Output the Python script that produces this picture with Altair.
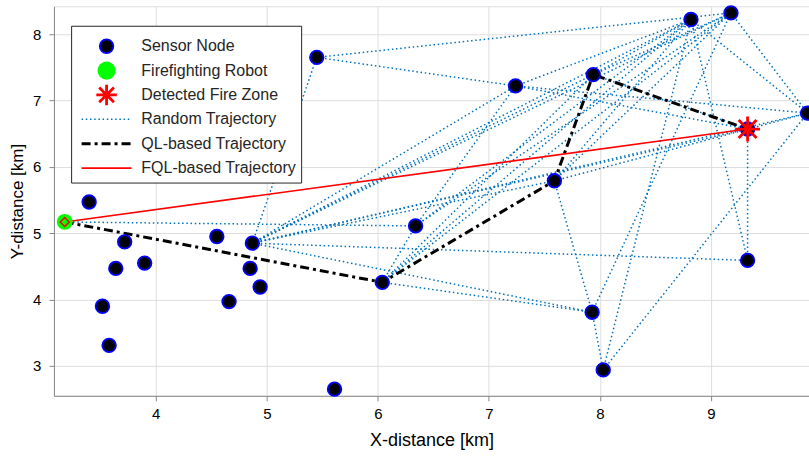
import altair as alt
import pandas as pd

# ---------------- data ----------------
node_names = ["S1", "S2", "S3", "S4", "S5", "S6", "S7", "S8", "S9", "S10",
              "S11", "S12", "A", "J", "I", "B", "H", "C", "L", "M",
              "D", "E", "K", "G", "F"]
node_x = [3.40, 3.72, 3.64, 3.90, 3.52, 3.58, 4.55, 4.87, 4.85, 4.94,
          4.66, 5.61, 5.45, 6.04, 6.34, 7.24, 7.59, 7.94, 7.93, 8.03,
          8.82, 9.18, 9.33, 9.87, 9.33]
node_y = [5.47, 4.87, 4.47, 4.55, 3.90, 3.31, 4.95, 4.85, 4.47, 4.19,
          3.97, 2.65, 7.65, 4.26, 5.11, 7.22, 5.79, 7.39, 3.81, 2.94,
          8.22, 8.32, 4.59, 6.81, 6.57]

robot_x = [3.18]
robot_y = [5.17]
fire_x = [9.33]
fire_y = [6.57]

# random trajectory segments (start node, end node); "R" = robot
random_edges = [
    ("R", "I"), ("S8", "A"), ("A", "E"), ("A", "B"), ("S8", "B"), ("S8", "C"),
    ("S8", "D"), ("S8", "E"), ("S8", "K"), ("S8", "L"), ("S8", "H"), ("S8", "G"),
    ("S8", "F"), ("I", "B"), ("I", "J"), ("I", "D"), ("I", "E"), ("J", "L"),
    ("J", "C"), ("J", "E"), ("J", "D"), ("H", "G"), ("H", "L"), ("L", "M"),
    ("L", "E"), ("M", "D"), ("M", "G"), ("D", "K"), ("F", "K"), ("E", "G"),
    ("D", "G"), ("B", "G"), ("C", "D"), ("B", "D"), ("C", "E"), ("H", "D"),
    ("B", "F"), ("C", "F"), ("H", "E"),
]

ql_x = [3.18, 6.04, 7.59, 7.94, 9.33]
ql_y = [5.17, 4.26, 5.79, 7.39, 6.57]

fql_x = [3.18, 9.33]
fql_y = [5.17, 6.57]

legend_labels = ["Sensor Node", "Firefighting Robot", "Detected Fire Zone",
                 "Random Trajectory", "QL-based Trajectory", "FQL-based Trajectory"]

x_ticks = [4, 5, 6, 7, 8, 9]
y_ticks = [3, 4, 5, 6, 7, 8]
x_domain = [3.083, 9.883]
y_domain = [2.55, 8.42]

# ---------------- tables ----------------
pos = {n: (x, y) for n, x, y in zip(node_names, node_x, node_y)}
pos["R"] = (robot_x[0], robot_y[0])
rows = []
for k, (a, b) in enumerate(random_edges):
    for o, n in enumerate((a, b)):
        rows.append({"seg": k, "o": o, "x": pos[n][0], "y": pos[n][1]})
rand_df = pd.DataFrame(rows)
nodes_df = pd.DataFrame({"x": node_x, "y": node_y})
robot_df = pd.DataFrame({"x": robot_x, "y": robot_y})
fire_df = pd.DataFrame({"x": fire_x, "y": fire_y})
ql_df = pd.DataFrame({"x": ql_x, "y": ql_y, "o": range(len(ql_x))})
fql_df = pd.DataFrame({"x": fql_x, "y": fql_y, "o": range(len(fql_x))})

FONT = "Liberation Sans"
TXT = "#262626"
BLUE = "#0072BD"
ASTER = "M0,-1L0,1M-1,0L1,0M-0.72,-0.72L0.72,0.72M-0.72,0.72L0.72,-0.72"

X = alt.X("x:Q", scale=alt.Scale(domain=x_domain, nice=False, zero=False),
          axis=alt.Axis(values=x_ticks, title="X-distance [km]", format="d",
                        titleFontSize=18, titleFontWeight="normal",
                        labelFontSize=15, labelPadding=6, titlePadding=10))
Y = alt.Y("y:Q", scale=alt.Scale(domain=y_domain, nice=False, zero=False),
          axis=alt.Axis(values=y_ticks, title="Y-distance [km]", format="d",
                        titleFontSize=17, titleFontWeight="normal",
                        labelFontSize=15, labelPadding=8, titlePadding=6))

rand = alt.Chart(rand_df).mark_line(
    color=BLUE, strokeWidth=1.5, strokeDash=[1.5, 2.7], clip=True
).encode(x=X, y=Y, detail="seg:N", order="o:O")

ql = alt.Chart(ql_df).mark_line(
    color="black", strokeWidth=3, strokeDash=[9, 4, 3, 4]
).encode(x="x:Q", y="y:Q", order="o:O")

fql = alt.Chart(fql_df).mark_line(color="#FF0000", strokeWidth=1.6).encode(
    x="x:Q", y="y:Q", order="o:O")

nodes = alt.Chart(nodes_df).mark_point(
    shape="circle", filled=True, fill="#000008", stroke="#0000FF",
    strokeWidth=1.8, size=185, opacity=1
).encode(x="x:Q", y="y:Q")

robot = alt.Chart(robot_df).mark_point(
    shape="circle", filled=True, color="#00FF00", size=250, opacity=1
).encode(x="x:Q", y="y:Q")

robot_d = alt.Chart(robot_df).mark_point(
    shape="diamond", filled=False, color="#FF0000", strokeWidth=1.5, size=80,
    opacity=1
).encode(x="x:Q", y="y:Q")

fire = alt.Chart(fire_df).mark_point(
    shape=ASTER, filled=False, color="#FF0000", strokeWidth=2.8, size=620,
    opacity=1
).encode(x="x:Q", y="y:Q")

# ---------------- legend ----------------
LX0, LX1, LY0, LY1 = 17.7, 248, 20, 177
row_y = [40 + 24.4 * i for i in range(len(legend_labels))]
sym_x = 52.7
line_x0, line_x1 = 27.7, 77.7
text_x = 87.5

leg = [alt.Chart(robot_df).mark_rect(fill="white", stroke=TXT, strokeWidth=1).encode(
    x=alt.value(LX0), x2=alt.value(LX1), y=alt.value(LY0), y2=alt.value(LY1))]
leg.append(alt.Chart(robot_df).mark_point(
    shape="circle", filled=True, fill="#000008", stroke="#0000FF",
    strokeWidth=1.8, size=185, opacity=1).encode(x=alt.value(sym_x), y=alt.value(row_y[0])))
leg.append(alt.Chart(robot_df).mark_point(
    shape="circle", filled=True, color="#00FF00", size=330, opacity=1).encode(
    x=alt.value(sym_x), y=alt.value(row_y[1])))
leg.append(alt.Chart(robot_df).mark_point(
    shape=ASTER, filled=False, color="#FF0000", strokeWidth=2.8, size=420,
    opacity=1).encode(x=alt.value(sym_x), y=alt.value(row_y[2])))
leg.append(alt.Chart(robot_df).mark_rule(
    color=BLUE, strokeWidth=1.5, strokeDash=[1.5, 2.7]).encode(
    x=alt.value(line_x0), x2=alt.value(line_x1), y=alt.value(row_y[3])))
leg.append(alt.Chart(robot_df).mark_rule(
    color="black", strokeWidth=3, strokeDash=[9, 4, 3, 4]).encode(
    x=alt.value(line_x0), x2=alt.value(line_x1), y=alt.value(row_y[4])))
leg.append(alt.Chart(robot_df).mark_rule(
    color="#FF0000", strokeWidth=1.6).encode(
    x=alt.value(line_x0), x2=alt.value(line_x1), y=alt.value(row_y[5])))
for lab, yy in zip(legend_labels, row_y):
    leg.append(alt.Chart(robot_df).mark_text(
        text=lab, align="left", baseline="middle", font=FONT, fontSize=16,
        color=TXT).encode(x=alt.value(text_x), y=alt.value(yy)))

chart = alt.layer(rand, ql, fql, robot, robot_d, nodes, fire, *leg).properties(
    width=756, height=390,
    autosize=alt.AutoSizeParams(type="none"),
    padding={"left": 54, "top": 6, "right": 0, "bottom": 67},
).configure_view(
    stroke="#262626", strokeWidth=1
).configure_axis(
    labelFont=FONT, titleFont=FONT, labelColor=TXT, titleColor=TXT,
    domainColor="#262626", domainWidth=1,
    ticks=False, grid=True, gridColor="#E3E3E3", gridWidth=1
).configure(background="white")

chart.save("out.html", embed_options={"renderer": "svg", "actions": False})
